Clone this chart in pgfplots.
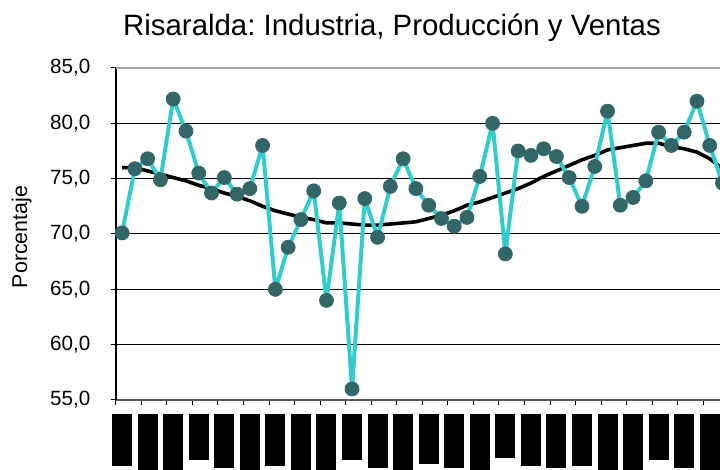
\documentclass[border=0pt]{standalone}
\usepackage{fontspec}
\setmainfont{Liberation Sans}
\usepackage{pgfplots}
\pgfplotsset{compat=1.18}
\definecolor{serie}{RGB}{51,204,204}
\definecolor{marca}{RGB}{51,102,102}
\frenchspacing
\begin{document}
\begin{tikzpicture}
\begin{axis}[
  at={(57.85pt,35pt)}, anchor=south west,
  x=6.3875pt, y=5.5333pt,
  xmin=-0.5, xmax=51.5, ymin=55, ymax=85,
  axis x line*=bottom, axis y line*=left,
  x axis line style={draw=black!65, line width=1pt, -},
  y axis line style={draw=black, line width=1pt, -},
  ytick={55,60,...,85},
  ymajorgrids, grid style={black, line width=0.5pt},
  tick align=outside,
  major tick length=2.5pt,
  tick style={black, line width=0.5pt},
  xtick={-0.5,1.5,...,51.5}, xticklabels={},
  extra x ticks={0,2,...,46},
  extra x tick labels={\rule{10pt}{26pt},\rule{10pt}{30pt},\rule{10pt}{30pt},\rule{10pt}{23pt},\rule{10pt}{27pt},\rule{10pt}{30pt},\rule{10pt}{26pt},\rule{10pt}{30pt},\rule{10pt}{30pt},\rule{10pt}{23pt},\rule{10pt}{27pt},\rule{10pt}{30pt},\rule{10pt}{25pt},\rule{10pt}{27pt},\rule{10pt}{30pt},\rule{10pt}{22pt},\rule{10pt}{26pt},\rule{10pt}{27pt},\rule{10pt}{26pt},\rule{10pt}{30pt},\rule{10pt}{30pt},\rule{10pt}{23pt},\rule{10pt}{27pt},\rule{10pt}{30pt}},
  extra x tick style={major tick length=0pt, xticklabel style={anchor=north, inner sep=0pt, yshift=-7pt}},
  yticklabel style={font=\fontsize{10.3}{12}\selectfont, anchor=east, inner sep=0pt, xshift=-10pt,
    /pgf/number format/fixed, /pgf/number format/fixed zerofill, /pgf/number format/precision=1,
    /pgf/number format/use comma, /pgf/number format/assume math mode=true},
  clip=false,
]
\draw[black!35, line width=1pt] (rel axis cs:0,1) -- (rel axis cs:1,1);
\addplot[black, line width=1.8pt, line join=round] coordinates {
(0,76.0)(1,76.0)(2,75.7)(3,75.4)(4,75.1)(5,74.8)(6,74.4)(7,74.1)(8,73.7)(9,73.4)
(10,73.0)(11,72.5)(12,72.1)(13,71.8)(14,71.5)(15,71.3)(16,71.0)(17,71.0)(18,70.9)(19,70.8)
(20,70.8)(21,70.9)(22,71.0)(23,71.1)(24,71.4)(25,71.7)(26,72.1)(27,72.6)(28,72.9)(29,73.3)
(30,73.7)(31,74.1)(32,74.6)(33,75.2)(34,75.7)(35,76.2)(36,76.7)(37,77.1)(38,77.6)(39,77.8)
(40,78.0)(41,78.2)(42,78.2)(43,77.9)(44,77.7)(45,77.4)(46,76.8)(47,75.9)
};
\addplot[serie, line width=2pt, line join=round, mark=*, mark size=3.5pt,
  mark options={fill=marca, draw=marca, line width=0.4pt}] coordinates {
(0,70.1)(1,75.9)(2,76.8)(3,74.9)(4,82.2)(5,79.3)(6,75.5)(7,73.7)(8,75.1)(9,73.6)
(10,74.1)(11,78.0)(12,65.0)(13,68.8)(14,71.3)(15,73.9)(16,64.0)(17,72.8)(18,56.0)(19,73.2)
(20,69.7)(21,74.3)(22,76.8)(23,74.1)(24,72.6)(25,71.4)(26,70.7)(27,71.5)(28,75.2)(29,80.0)
(30,68.2)(31,77.5)(32,77.1)(33,77.7)(34,77.0)(35,75.1)(36,72.5)(37,76.1)(38,81.1)(39,72.6)
(40,73.3)(41,74.8)(42,79.2)(43,78.0)(44,79.2)(45,82.0)(46,78.0)(47,74.6)
};
\end{axis}
\node[anchor=base, font=\fontsize{14.7}{17}\selectfont] at (196pt,217pt) {Risaralda: Industria, Producción y Ventas};
\node[rotate=90, anchor=base, font=\fontsize{10.7}{12}\selectfont] at (13.5pt,116.5pt) {Porcentaje};
\pgfresetboundingbox
\useasboundingbox (0,0) rectangle (360pt,235pt);
\end{tikzpicture}
\end{document}
